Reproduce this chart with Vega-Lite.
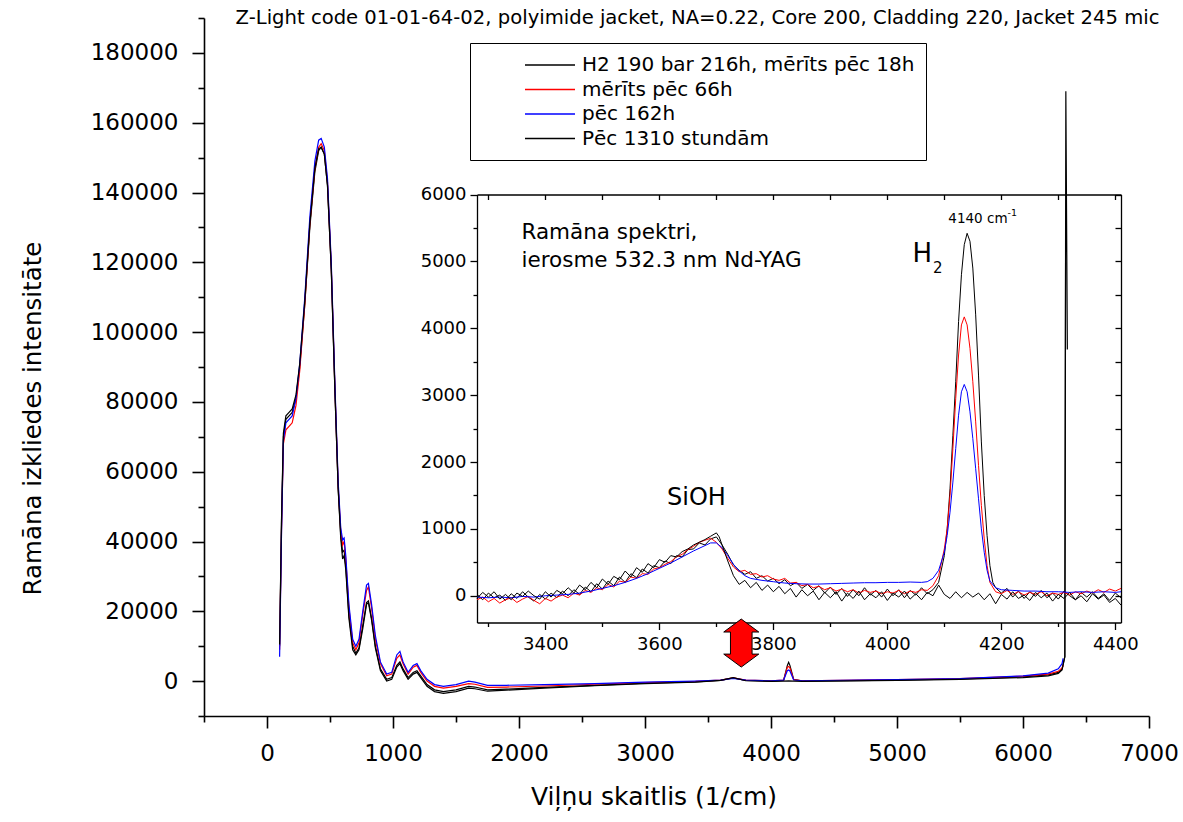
{
"$schema": "https://vega.github.io/schema/vega-lite/v6.json",
"width": 945,
"height": 698,
"autosize": {"type": "none"},
"padding": {"left": 204, "top": 18, "right": 34, "bottom": 106},
"background": "white",
"config": {
  "view": {"stroke": null},
  "axis": {"grid": false, "domainColor": "black", "tickColor": "black", "labelColor": "black", "titleColor": "black", "labelFont": "DejaVu Sans", "titleFont": "DejaVu Sans", "titleFontWeight": "normal", "labelFlush": false, "labelOverlap": false, "labelBound": false},
  "text": {"font": "DejaVu Sans", "color": "black"}
},
"datasets": {
"one": [{}],
"main": [
{"s":"a","x":100,"y":10000},{"s":"a","x":115,"y":45000},{"s":"a","x":130,"y":70000},{"s":"a","x":150,"y":75000},{"s":"a","x":175,"y":76000},{"s":"a","x":200,"y":77000},{"s":"a","x":230,"y":81000},{"s":"a","x":260,"y":90000},{"s":"a","x":300,"y":108000},{"s":"a","x":340,"y":130000},{"s":"a","x":380,"y":146000},{"s":"a","x":410,"y":152000},{"s":"a","x":430,"y":153000},{"s":"a","x":455,"y":151000},{"s":"a","x":480,"y":142000},{"s":"a","x":510,"y":118000},{"s":"a","x":540,"y":82000},{"s":"a","x":565,"y":55000},{"s":"a","x":585,"y":42000},{"s":"a","x":600,"y":37000},{"s":"a","x":612,"y":37500},{"s":"a","x":625,"y":33000},{"s":"a","x":650,"y":19000},{"s":"a","x":680,"y":10000},{"s":"a","x":705,"y":8000},{"s":"a","x":730,"y":9500},{"s":"a","x":760,"y":16000},{"s":"a","x":790,"y":22500},{"s":"a","x":805,"y":23000},{"s":"a","x":830,"y":18000},{"s":"a","x":860,"y":10000},{"s":"a","x":900,"y":3500},{"s":"a","x":950,"y":500},{"s":"a","x":990,"y":1000},{"s":"a","x":1030,"y":4500},{"s":"a","x":1055,"y":5500},{"s":"a","x":1080,"y":3500},{"s":"a","x":1120,"y":1000},{"s":"a","x":1160,"y":2500},{"s":"a","x":1190,"y":3000},{"s":"a","x":1220,"y":1500},{"s":"a","x":1270,"y":-1000},{"s":"a","x":1330,"y":-2500},{"s":"a","x":1400,"y":-3000},{"s":"a","x":1500,"y":-2500},{"s":"a","x":1600,"y":-1500},{"s":"a","x":1650,"y":-1700},{"s":"a","x":1750,"y":-2500},{"s":"a","x":1900,"y":-2300},{"s":"a","x":2200,"y":-1800},{"s":"a","x":2600,"y":-1200},{"s":"a","x":3000,"y":-600},{"s":"a","x":3400,"y":-200},{"s":"a","x":3600,"y":200},{"s":"a","x":3700,"y":900},{"s":"a","x":3800,"y":200},{"s":"a","x":4000,"y":0},{"s":"a","x":4100,"y":200},{"s":"a","x":4130,"y":4500},{"s":"a","x":4140,"y":5400},{"s":"a","x":4150,"y":4500},{"s":"a","x":4180,"y":500},{"s":"a","x":4250,"y":0},{"s":"a","x":5000,"y":300},{"s":"a","x":5500,"y":600},{"s":"a","x":6000,"y":1200},{"s":"a","x":6200,"y":1800},{"s":"a","x":6280,"y":2500},{"s":"a","x":6310,"y":3500},{"s":"a","x":6332,"y":7000},{"s":"a","x":6340,"y":169000},{"s":"a","x":6352,"y":95000},
{"s":"b","x":100,"y":9000},{"s":"b","x":115,"y":43000},{"s":"b","x":130,"y":68000},{"s":"b","x":150,"y":72000},{"s":"b","x":175,"y":73000},{"s":"b","x":200,"y":74000},{"s":"b","x":230,"y":79000},{"s":"b","x":260,"y":89000},{"s":"b","x":300,"y":108000},{"s":"b","x":340,"y":131000},{"s":"b","x":380,"y":147000},{"s":"b","x":410,"y":153000},{"s":"b","x":430,"y":154000},{"s":"b","x":455,"y":152000},{"s":"b","x":480,"y":143000},{"s":"b","x":510,"y":119000},{"s":"b","x":540,"y":83000},{"s":"b","x":565,"y":56000},{"s":"b","x":585,"y":43000},{"s":"b","x":600,"y":39000},{"s":"b","x":612,"y":40000},{"s":"b","x":625,"y":35000},{"s":"b","x":650,"y":21000},{"s":"b","x":680,"y":11000},{"s":"b","x":705,"y":9000},{"s":"b","x":730,"y":11000},{"s":"b","x":760,"y":19000},{"s":"b","x":790,"y":26000},{"s":"b","x":805,"y":27000},{"s":"b","x":830,"y":21000},{"s":"b","x":860,"y":12000},{"s":"b","x":900,"y":5000},{"s":"b","x":950,"y":1500},{"s":"b","x":990,"y":2000},{"s":"b","x":1030,"y":6500},{"s":"b","x":1055,"y":7500},{"s":"b","x":1080,"y":5000},{"s":"b","x":1120,"y":2000},{"s":"b","x":1160,"y":4000},{"s":"b","x":1190,"y":4500},{"s":"b","x":1220,"y":2500},{"s":"b","x":1270,"y":0},{"s":"b","x":1330,"y":-1500},{"s":"b","x":1400,"y":-2000},{"s":"b","x":1500,"y":-1500},{"s":"b","x":1600,"y":-700},{"s":"b","x":1650,"y":-900},{"s":"b","x":1750,"y":-1800},{"s":"b","x":1900,"y":-1700},{"s":"b","x":2200,"y":-1400},{"s":"b","x":2600,"y":-900},{"s":"b","x":3000,"y":-400},{"s":"b","x":3400,"y":-100},{"s":"b","x":3600,"y":300},{"s":"b","x":3700,"y":900},{"s":"b","x":3800,"y":300},{"s":"b","x":4000,"y":100},{"s":"b","x":4100,"y":300},{"s":"b","x":4130,"y":4000},{"s":"b","x":4140,"y":4200},{"s":"b","x":4150,"y":3800},{"s":"b","x":4180,"y":400},{"s":"b","x":4250,"y":100},{"s":"b","x":5000,"y":400},{"s":"b","x":5500,"y":700},{"s":"b","x":6000,"y":1400},{"s":"b","x":6200,"y":2000},{"s":"b","x":6280,"y":2800},{"s":"b","x":6310,"y":3800},{"s":"b","x":6320,"y":4500},
{"s":"c","x":100,"y":7000},{"s":"c","x":115,"y":42000},{"s":"c","x":130,"y":69000},{"s":"c","x":150,"y":74000},{"s":"c","x":175,"y":75000},{"s":"c","x":200,"y":76000},{"s":"c","x":230,"y":81000},{"s":"c","x":260,"y":91000},{"s":"c","x":300,"y":110000},{"s":"c","x":340,"y":133000},{"s":"c","x":380,"y":149000},{"s":"c","x":410,"y":155000},{"s":"c","x":430,"y":155500},{"s":"c","x":455,"y":153000},{"s":"c","x":480,"y":144000},{"s":"c","x":510,"y":120000},{"s":"c","x":540,"y":84000},{"s":"c","x":565,"y":57000},{"s":"c","x":585,"y":44000},{"s":"c","x":600,"y":40500},{"s":"c","x":612,"y":41000},{"s":"c","x":625,"y":36000},{"s":"c","x":650,"y":22000},{"s":"c","x":680,"y":12000},{"s":"c","x":705,"y":10000},{"s":"c","x":730,"y":12000},{"s":"c","x":760,"y":20000},{"s":"c","x":790,"y":27500},{"s":"c","x":805,"y":28000},{"s":"c","x":830,"y":22000},{"s":"c","x":860,"y":13000},{"s":"c","x":900,"y":5500},{"s":"c","x":950,"y":2000},{"s":"c","x":990,"y":2500},{"s":"c","x":1030,"y":7500},{"s":"c","x":1055,"y":8500},{"s":"c","x":1080,"y":5500},{"s":"c","x":1120,"y":2500},{"s":"c","x":1160,"y":4500},{"s":"c","x":1190,"y":5000},{"s":"c","x":1220,"y":3000},{"s":"c","x":1270,"y":500},{"s":"c","x":1330,"y":-1000},{"s":"c","x":1400,"y":-1500},{"s":"c","x":1500,"y":-1000},{"s":"c","x":1600,"y":0},{"s":"c","x":1650,"y":-300},{"s":"c","x":1750,"y":-1200},{"s":"c","x":1900,"y":-1200},{"s":"c","x":2200,"y":-1000},{"s":"c","x":2600,"y":-700},{"s":"c","x":3000,"y":-300},{"s":"c","x":3400,"y":0},{"s":"c","x":3600,"y":300},{"s":"c","x":3700,"y":800},{"s":"c","x":3800,"y":300},{"s":"c","x":4000,"y":100},{"s":"c","x":4100,"y":300},{"s":"c","x":4130,"y":3000},{"s":"c","x":4140,"y":3200},{"s":"c","x":4150,"y":2900},{"s":"c","x":4180,"y":300},{"s":"c","x":4250,"y":100},{"s":"c","x":5000,"y":400},{"s":"c","x":5500,"y":700},{"s":"c","x":6000,"y":1500},{"s":"c","x":6200,"y":2300},{"s":"c","x":6280,"y":3500},{"s":"c","x":6310,"y":5000},{"s":"c","x":6318,"y":6500},
{"s":"d","x":100,"y":10500},{"s":"d","x":115,"y":46000},{"s":"d","x":130,"y":71000},{"s":"d","x":150,"y":76000},{"s":"d","x":175,"y":77000},{"s":"d","x":200,"y":78000},{"s":"d","x":230,"y":82000},{"s":"d","x":260,"y":91000},{"s":"d","x":300,"y":109000},{"s":"d","x":340,"y":131000},{"s":"d","x":380,"y":147000},{"s":"d","x":410,"y":152500},{"s":"d","x":430,"y":153000},{"s":"d","x":455,"y":151000},{"s":"d","x":480,"y":142000},{"s":"d","x":510,"y":118000},{"s":"d","x":540,"y":82000},{"s":"d","x":565,"y":55000},{"s":"d","x":585,"y":41000},{"s":"d","x":600,"y":35000},{"s":"d","x":612,"y":36000},{"s":"d","x":625,"y":32000},{"s":"d","x":650,"y":18000},{"s":"d","x":680,"y":9000},{"s":"d","x":705,"y":7500},{"s":"d","x":730,"y":9000},{"s":"d","x":760,"y":15000},{"s":"d","x":790,"y":22000},{"s":"d","x":805,"y":22500},{"s":"d","x":830,"y":17500},{"s":"d","x":860,"y":9500},{"s":"d","x":900,"y":3000},{"s":"d","x":950,"y":0},{"s":"d","x":990,"y":500},{"s":"d","x":1030,"y":4000},{"s":"d","x":1055,"y":5000},{"s":"d","x":1080,"y":3000},{"s":"d","x":1120,"y":500},{"s":"d","x":1160,"y":2000},{"s":"d","x":1190,"y":2500},{"s":"d","x":1220,"y":1000},{"s":"d","x":1270,"y":-1500},{"s":"d","x":1330,"y":-3000},{"s":"d","x":1400,"y":-3500},{"s":"d","x":1500,"y":-3000},{"s":"d","x":1600,"y":-2000},{"s":"d","x":1650,"y":-2200},{"s":"d","x":1750,"y":-2900},{"s":"d","x":1900,"y":-2600},{"s":"d","x":2200,"y":-2000},{"s":"d","x":2600,"y":-1300},{"s":"d","x":3000,"y":-700},{"s":"d","x":3400,"y":-300},{"s":"d","x":3600,"y":200},{"s":"d","x":3700,"y":1000},{"s":"d","x":3800,"y":100},{"s":"d","x":4000,"y":-100},{"s":"d","x":4100,"y":0},{"s":"d","x":4140,"y":50},{"s":"d","x":4180,"y":0},{"s":"d","x":4250,"y":-100},{"s":"d","x":5000,"y":200},{"s":"d","x":5500,"y":500},{"s":"d","x":6000,"y":1000},{"s":"d","x":6200,"y":1500},{"s":"d","x":6280,"y":2200},{"s":"d","x":6310,"y":3200},{"s":"d","x":6332,"y":7000},{"s":"d","x":6338,"y":120000}
],
"inset": [
{"s":"a","x":3280,"y":20},{"s":"a","x":3290,"y":-60},{"s":"a","x":3300,"y":40},{"s":"a","x":3310,"y":-30},{"s":"a","x":3320,"y":10},{"s":"a","x":3330,"y":-70},{"s":"a","x":3340,"y":30},{"s":"a","x":3350,"y":-40},{"s":"a","x":3360,"y":60},{"s":"a","x":3370,"y":-20},{"s":"a","x":3380,"y":-80},{"s":"a","x":3390,"y":20},{"s":"a","x":3400,"y":-50},{"s":"a","x":3410,"y":40},{"s":"a","x":3420,"y":-30},{"s":"a","x":3430,"y":70},{"s":"a","x":3440,"y":0},{"s":"a","x":3450,"y":90},{"s":"a","x":3460,"y":20},{"s":"a","x":3470,"y":130},{"s":"a","x":3480,"y":60},{"s":"a","x":3490,"y":180},{"s":"a","x":3500,"y":100},{"s":"a","x":3510,"y":220},{"s":"a","x":3520,"y":150},{"s":"a","x":3530,"y":280},{"s":"a","x":3540,"y":200},{"s":"a","x":3550,"y":330},{"s":"a","x":3560,"y":270},{"s":"a","x":3570,"y":400},{"s":"a","x":3580,"y":340},{"s":"a","x":3590,"y":450},{"s":"a","x":3600,"y":420},{"s":"a","x":3610,"y":520},{"s":"a","x":3620,"y":480},{"s":"a","x":3630,"y":600},{"s":"a","x":3640,"y":580},{"s":"a","x":3650,"y":690},{"s":"a","x":3660,"y":700},{"s":"a","x":3670,"y":790},{"s":"a","x":3680,"y":760},{"s":"a","x":3690,"y":850},{"s":"a","x":3700,"y":880},{"s":"a","x":3710,"y":760},{"s":"a","x":3720,"y":620},{"s":"a","x":3730,"y":460},{"s":"a","x":3740,"y":380},{"s":"a","x":3750,"y":320},{"s":"a","x":3760,"y":360},{"s":"a","x":3770,"y":260},{"s":"a","x":3780,"y":300},{"s":"a","x":3790,"y":220},{"s":"a","x":3800,"y":260},{"s":"a","x":3810,"y":180},{"s":"a","x":3820,"y":240},{"s":"a","x":3830,"y":150},{"s":"a","x":3840,"y":200},{"s":"a","x":3850,"y":110},{"s":"a","x":3860,"y":170},{"s":"a","x":3870,"y":80},{"s":"a","x":3880,"y":150},{"s":"a","x":3890,"y":40},{"s":"a","x":3900,"y":130},{"s":"a","x":3910,"y":20},{"s":"a","x":3920,"y":110},{"s":"a","x":3930,"y":-10},{"s":"a","x":3940,"y":90},{"s":"a","x":3950,"y":0},{"s":"a","x":3960,"y":120},{"s":"a","x":3970,"y":10},{"s":"a","x":3980,"y":80},{"s":"a","x":3990,"y":-20},{"s":"a","x":4000,"y":100},{"s":"a","x":4010,"y":0},{"s":"a","x":4020,"y":90},{"s":"a","x":4030,"y":-30},{"s":"a","x":4040,"y":80},{"s":"a","x":4050,"y":10},{"s":"a","x":4060,"y":120},{"s":"a","x":4070,"y":30},{"s":"a","x":4080,"y":90},{"s":"a","x":4090,"y":200},{"s":"a","x":4100,"y":600},{"s":"a","x":4105,"y":1000},{"s":"a","x":4110,"y":1600},{"s":"a","x":4115,"y":2400},{"s":"a","x":4120,"y":3200},{"s":"a","x":4125,"y":4100},{"s":"a","x":4130,"y":4800},{"s":"a","x":4135,"y":5250},{"s":"a","x":4140,"y":5420},{"s":"a","x":4145,"y":5300},{"s":"a","x":4150,"y":4900},{"s":"a","x":4155,"y":4200},{"s":"a","x":4160,"y":3300},{"s":"a","x":4165,"y":2300},{"s":"a","x":4170,"y":1500},{"s":"a","x":4175,"y":900},{"s":"a","x":4180,"y":450},{"s":"a","x":4185,"y":200},{"s":"a","x":4190,"y":120},{"s":"a","x":4200,"y":40},{"s":"a","x":4210,"y":110},{"s":"a","x":4220,"y":-20},{"s":"a","x":4230,"y":70},{"s":"a","x":4240,"y":-40},{"s":"a","x":4250,"y":60},{"s":"a","x":4260,"y":-10},{"s":"a","x":4270,"y":80},{"s":"a","x":4280,"y":-30},{"s":"a","x":4290,"y":40},{"s":"a","x":4300,"y":-50},{"s":"a","x":4310,"y":70},{"s":"a","x":4320,"y":0},{"s":"a","x":4330,"y":-60},{"s":"a","x":4340,"y":50},{"s":"a","x":4350,"y":-20},{"s":"a","x":4360,"y":60},{"s":"a","x":4370,"y":-40},{"s":"a","x":4380,"y":30},{"s":"a","x":4390,"y":-70},{"s":"a","x":4400,"y":40},{"s":"a","x":4410,"y":-30},
{"s":"b","x":3280,"y":-60},{"s":"b","x":3290,"y":-20},{"s":"b","x":3300,"y":-90},{"s":"b","x":3310,"y":-40},{"s":"b","x":3320,"y":-110},{"s":"b","x":3330,"y":-60},{"s":"b","x":3340,"y":-30},{"s":"b","x":3350,"y":-100},{"s":"b","x":3360,"y":-50},{"s":"b","x":3370,"y":-10},{"s":"b","x":3380,"y":-70},{"s":"b","x":3390,"y":-120},{"s":"b","x":3400,"y":-40},{"s":"b","x":3410,"y":-80},{"s":"b","x":3420,"y":-20},{"s":"b","x":3430,"y":10},{"s":"b","x":3440,"y":-30},{"s":"b","x":3450,"y":40},{"s":"b","x":3460,"y":10},{"s":"b","x":3470,"y":80},{"s":"b","x":3480,"y":50},{"s":"b","x":3490,"y":120},{"s":"b","x":3500,"y":90},{"s":"b","x":3510,"y":170},{"s":"b","x":3520,"y":130},{"s":"b","x":3530,"y":220},{"s":"b","x":3540,"y":200},{"s":"b","x":3550,"y":280},{"s":"b","x":3560,"y":260},{"s":"b","x":3570,"y":330},{"s":"b","x":3580,"y":320},{"s":"b","x":3590,"y":400},{"s":"b","x":3600,"y":420},{"s":"b","x":3610,"y":470},{"s":"b","x":3620,"y":510},{"s":"b","x":3630,"y":580},{"s":"b","x":3640,"y":620},{"s":"b","x":3650,"y":690},{"s":"b","x":3660,"y":740},{"s":"b","x":3670,"y":800},{"s":"b","x":3680,"y":830},{"s":"b","x":3690,"y":860},{"s":"b","x":3700,"y":800},{"s":"b","x":3710,"y":700},{"s":"b","x":3720,"y":560},{"s":"b","x":3730,"y":430},{"s":"b","x":3740,"y":360},{"s":"b","x":3750,"y":380},{"s":"b","x":3760,"y":320},{"s":"b","x":3770,"y":330},{"s":"b","x":3780,"y":280},{"s":"b","x":3790,"y":300},{"s":"b","x":3800,"y":250},{"s":"b","x":3810,"y":230},{"s":"b","x":3820,"y":260},{"s":"b","x":3830,"y":190},{"s":"b","x":3840,"y":200},{"s":"b","x":3850,"y":150},{"s":"b","x":3860,"y":170},{"s":"b","x":3870,"y":120},{"s":"b","x":3880,"y":140},{"s":"b","x":3890,"y":90},{"s":"b","x":3900,"y":120},{"s":"b","x":3910,"y":70},{"s":"b","x":3920,"y":100},{"s":"b","x":3930,"y":60},{"s":"b","x":3940,"y":90},{"s":"b","x":3950,"y":40},{"s":"b","x":3960,"y":80},{"s":"b","x":3970,"y":50},{"s":"b","x":3980,"y":70},{"s":"b","x":3990,"y":30},{"s":"b","x":4000,"y":60},{"s":"b","x":4010,"y":40},{"s":"b","x":4020,"y":80},{"s":"b","x":4030,"y":30},{"s":"b","x":4040,"y":70},{"s":"b","x":4050,"y":50},{"s":"b","x":4060,"y":90},{"s":"b","x":4070,"y":80},{"s":"b","x":4080,"y":150},{"s":"b","x":4090,"y":300},{"s":"b","x":4100,"y":700},{"s":"b","x":4105,"y":1000},{"s":"b","x":4110,"y":1500},{"s":"b","x":4115,"y":2200},{"s":"b","x":4120,"y":2950},{"s":"b","x":4125,"y":3600},{"s":"b","x":4130,"y":4050},{"s":"b","x":4135,"y":4170},{"s":"b","x":4140,"y":4050},{"s":"b","x":4145,"y":3700},{"s":"b","x":4150,"y":3200},{"s":"b","x":4155,"y":2600},{"s":"b","x":4160,"y":1950},{"s":"b","x":4165,"y":1350},{"s":"b","x":4170,"y":850},{"s":"b","x":4175,"y":450},{"s":"b","x":4180,"y":200},{"s":"b","x":4190,"y":60},{"s":"b","x":4200,"y":30},{"s":"b","x":4210,"y":80},{"s":"b","x":4220,"y":20},{"s":"b","x":4230,"y":60},{"s":"b","x":4240,"y":10},{"s":"b","x":4250,"y":50},{"s":"b","x":4260,"y":20},{"s":"b","x":4270,"y":60},{"s":"b","x":4280,"y":0},{"s":"b","x":4290,"y":40},{"s":"b","x":4300,"y":20},{"s":"b","x":4310,"y":50},{"s":"b","x":4320,"y":10},{"s":"b","x":4330,"y":60},{"s":"b","x":4340,"y":30},{"s":"b","x":4350,"y":70},{"s":"b","x":4360,"y":40},{"s":"b","x":4370,"y":90},{"s":"b","x":4380,"y":50},{"s":"b","x":4390,"y":100},{"s":"b","x":4400,"y":70},{"s":"b","x":4410,"y":110},
{"s":"c","x":3280,"y":-20},{"s":"c","x":3300,"y":-30},{"s":"c","x":3320,"y":-20},{"s":"c","x":3340,"y":-30},{"s":"c","x":3360,"y":-10},{"s":"c","x":3380,"y":-20},{"s":"c","x":3400,"y":0},{"s":"c","x":3420,"y":10},{"s":"c","x":3440,"y":20},{"s":"c","x":3460,"y":40},{"s":"c","x":3480,"y":70},{"s":"c","x":3500,"y":110},{"s":"c","x":3520,"y":150},{"s":"c","x":3540,"y":200},{"s":"c","x":3560,"y":260},{"s":"c","x":3580,"y":330},{"s":"c","x":3600,"y":410},{"s":"c","x":3620,"y":490},{"s":"c","x":3640,"y":580},{"s":"c","x":3660,"y":670},{"s":"c","x":3680,"y":750},{"s":"c","x":3690,"y":790},{"s":"c","x":3700,"y":790},{"s":"c","x":3710,"y":720},{"s":"c","x":3720,"y":600},{"s":"c","x":3730,"y":470},{"s":"c","x":3740,"y":370},{"s":"c","x":3750,"y":300},{"s":"c","x":3760,"y":260},{"s":"c","x":3780,"y":230},{"s":"c","x":3800,"y":210},{"s":"c","x":3820,"y":190},{"s":"c","x":3840,"y":180},{"s":"c","x":3860,"y":175},{"s":"c","x":3880,"y":175},{"s":"c","x":3900,"y":180},{"s":"c","x":3920,"y":185},{"s":"c","x":3940,"y":190},{"s":"c","x":3960,"y":195},{"s":"c","x":3980,"y":195},{"s":"c","x":4000,"y":200},{"s":"c","x":4020,"y":200},{"s":"c","x":4040,"y":205},{"s":"c","x":4060,"y":200},{"s":"c","x":4070,"y":210},{"s":"c","x":4080,"y":260},{"s":"c","x":4090,"y":380},{"s":"c","x":4100,"y":650},{"s":"c","x":4105,"y":900},{"s":"c","x":4110,"y":1250},{"s":"c","x":4115,"y":1700},{"s":"c","x":4120,"y":2200},{"s":"c","x":4125,"y":2700},{"s":"c","x":4130,"y":3050},{"s":"c","x":4135,"y":3160},{"s":"c","x":4140,"y":3050},{"s":"c","x":4145,"y":2750},{"s":"c","x":4150,"y":2350},{"s":"c","x":4155,"y":1900},{"s":"c","x":4160,"y":1450},{"s":"c","x":4165,"y":1000},{"s":"c","x":4170,"y":650},{"s":"c","x":4175,"y":380},{"s":"c","x":4180,"y":220},{"s":"c","x":4190,"y":120},{"s":"c","x":4200,"y":90},{"s":"c","x":4220,"y":80},{"s":"c","x":4240,"y":70},{"s":"c","x":4260,"y":70},{"s":"c","x":4280,"y":60},{"s":"c","x":4300,"y":60},{"s":"c","x":4320,"y":50},{"s":"c","x":4340,"y":60},{"s":"c","x":4360,"y":50},{"s":"c","x":4380,"y":60},{"s":"c","x":4400,"y":50},{"s":"c","x":4410,"y":60},
{"s":"d","x":3280,"y":-40},{"s":"d","x":3290,"y":50},{"s":"d","x":3300,"y":-20},{"s":"d","x":3310,"y":60},{"s":"d","x":3320,"y":-50},{"s":"d","x":3330,"y":20},{"s":"d","x":3340,"y":-60},{"s":"d","x":3350,"y":40},{"s":"d","x":3360,"y":-10},{"s":"d","x":3370,"y":70},{"s":"d","x":3380,"y":0},{"s":"d","x":3390,"y":-50},{"s":"d","x":3400,"y":60},{"s":"d","x":3410,"y":-20},{"s":"d","x":3420,"y":80},{"s":"d","x":3430,"y":30},{"s":"d","x":3440,"y":120},{"s":"d","x":3450,"y":40},{"s":"d","x":3460,"y":160},{"s":"d","x":3470,"y":90},{"s":"d","x":3480,"y":200},{"s":"d","x":3490,"y":120},{"s":"d","x":3500,"y":250},{"s":"d","x":3510,"y":170},{"s":"d","x":3520,"y":290},{"s":"d","x":3530,"y":240},{"s":"d","x":3540,"y":370},{"s":"d","x":3550,"y":280},{"s":"d","x":3560,"y":420},{"s":"d","x":3570,"y":350},{"s":"d","x":3580,"y":480},{"s":"d","x":3590,"y":420},{"s":"d","x":3600,"y":540},{"s":"d","x":3610,"y":500},{"s":"d","x":3620,"y":600},{"s":"d","x":3630,"y":580},{"s":"d","x":3640,"y":660},{"s":"d","x":3650,"y":700},{"s":"d","x":3660,"y":760},{"s":"d","x":3670,"y":800},{"s":"d","x":3680,"y":840},{"s":"d","x":3690,"y":890},{"s":"d","x":3700,"y":940},{"s":"d","x":3705,"y":880},{"s":"d","x":3710,"y":760},{"s":"d","x":3720,"y":520},{"s":"d","x":3730,"y":300},{"s":"d","x":3740,"y":170},{"s":"d","x":3750,"y":230},{"s":"d","x":3760,"y":120},{"s":"d","x":3770,"y":200},{"s":"d","x":3780,"y":80},{"s":"d","x":3790,"y":160},{"s":"d","x":3800,"y":60},{"s":"d","x":3810,"y":140},{"s":"d","x":3820,"y":30},{"s":"d","x":3830,"y":110},{"s":"d","x":3840,"y":-20},{"s":"d","x":3850,"y":90},{"s":"d","x":3860,"y":0},{"s":"d","x":3870,"y":70},{"s":"d","x":3880,"y":-60},{"s":"d","x":3890,"y":50},{"s":"d","x":3900,"y":-30},{"s":"d","x":3910,"y":60},{"s":"d","x":3920,"y":-80},{"s":"d","x":3930,"y":40},{"s":"d","x":3940,"y":-40},{"s":"d","x":3950,"y":70},{"s":"d","x":3960,"y":-60},{"s":"d","x":3970,"y":30},{"s":"d","x":3980,"y":-30},{"s":"d","x":3990,"y":60},{"s":"d","x":4000,"y":-70},{"s":"d","x":4010,"y":40},{"s":"d","x":4020,"y":-20},{"s":"d","x":4030,"y":70},{"s":"d","x":4040,"y":-50},{"s":"d","x":4050,"y":30},{"s":"d","x":4060,"y":-60},{"s":"d","x":4070,"y":50},{"s":"d","x":4080,"y":0},{"s":"d","x":4090,"y":160},{"s":"d","x":4100,"y":20},{"s":"d","x":4110,"y":-40},{"s":"d","x":4120,"y":60},{"s":"d","x":4130,"y":-30},{"s":"d","x":4140,"y":50},{"s":"d","x":4150,"y":-20},{"s":"d","x":4160,"y":40},{"s":"d","x":4170,"y":-60},{"s":"d","x":4180,"y":30},{"s":"d","x":4190,"y":-120},{"s":"d","x":4200,"y":20},{"s":"d","x":4210,"y":-50},{"s":"d","x":4220,"y":60},{"s":"d","x":4230,"y":-40},{"s":"d","x":4240,"y":10},{"s":"d","x":4250,"y":-70},{"s":"d","x":4260,"y":50},{"s":"d","x":4270,"y":-30},{"s":"d","x":4280,"y":40},{"s":"d","x":4290,"y":-80},{"s":"d","x":4300,"y":20},{"s":"d","x":4310,"y":-40},{"s":"d","x":4320,"y":50},{"s":"d","x":4330,"y":-60},{"s":"d","x":4340,"y":0},{"s":"d","x":4350,"y":-90},{"s":"d","x":4360,"y":30},{"s":"d","x":4370,"y":-50},{"s":"d","x":4380,"y":10},{"s":"d","x":4390,"y":-100},{"s":"d","x":4400,"y":-40},{"s":"d","x":4410,"y":-140}
]
},
"layer": [
{
  "layer": [
    {
      "data": {"name": "main"},
      "mark": {"type": "line", "strokeWidth": 1.2, "interpolate": "linear"},
      "encoding": {
        "x": {"field": "x", "type": "quantitative",
          "scale": {"domain": [-500, 7000], "nice": false, "zero": false},
          "axis": {"orient": "bottom", "values": [-500,0,500,1000,1500,2000,2500,3000,3500,4000,4500,5000,5500,6000,6500,7000], "format": "d",
            "labelExpr": "datum.value % 1000 === 0 ? datum.label : ''",
            "tickSize": {"condition": {"test": "datum.value % 1000 === 0", "value": 12}, "value": 6},
            "tickWidth": 1.6, "domainWidth": 1.6, "labelFontSize": 23, "labelPadding": 14,
            "title": "Viļņu skaitlis (1/cm)", "titleFontSize": 25, "titleX": 449.5, "titleY": 88, "titleAlign": "center", "titleBaseline": "alphabetic"}},
        "y": {"field": "y", "type": "quantitative",
          "scale": {"domain": [-10000, 190000], "nice": false, "zero": false},
          "axis": {"orient": "left", "values": [-10000,0,10000,20000,30000,40000,50000,60000,70000,80000,90000,100000,110000,120000,130000,140000,150000,160000,170000,180000,190000], "format": "d",
            "labelExpr": "datum.value >= 0 && datum.value % 20000 === 0 ? datum.label : ''",
            "tickSize": {"condition": {"test": "datum.value % 20000 === 0", "value": 12}, "value": 6},
            "tickWidth": 1.6, "domainWidth": 1.6, "labelFontSize": 23, "labelPadding": 14,
            "title": "Ramāna izkliedes intensitāte", "titleFontSize": 24.5, "titleAngle": -90, "titleX": -164, "titleY": 400, "titleAlign": "center", "titleBaseline": "alphabetic"}},
        "color": {"field": "s", "type": "nominal",
          "scale": {"domain": ["a","b","c","d"], "range": ["#000000","#ff0000","#0000ff","#000000"]},
          "legend": {"orient": "none", "legendX": 266, "legendY": 25, "title": null,
            "symbolType": "M-2.5,0H2.5", "symbolSize": 400, "symbolStrokeWidth": 1.5,
            "symbolOffset": 58, "labelOffset": 21, "labelFont": "DejaVu Sans", "labelFontSize": 20, "labelColor": "black", "labelLimit": 600,
            "strokeColor": "black", "fillColor": "white", "padding": 11, "rowPadding": 3.5,
            "labelExpr": "datum.label == 'a' ? 'H2 190 bar 216h, mērīts pēc 18h' : datum.label == 'b' ? 'mērīts pēc 66h' : datum.label == 'c' ? 'pēc 162h' : 'Pēc 1310 stundām'"}}
      }
    },
    {
      "data": {"name": "one"},
      "mark": {"type": "point", "shape": "M0,-1L0.73,-0.46L0.45,-0.46L0.45,0.46L0.73,0.46L0,1L-0.73,0.46L-0.45,0.46L-0.45,-0.46L-0.73,-0.46Z", "size": 2304, "filled": true, "fill": "#ff0000", "stroke": "#000000", "strokeWidth": 1, "opacity": 1},
      "encoding": {
        "x": {"datum": 3764, "type": "quantitative", "scale": {"domain": [-500, 7000], "nice": false, "zero": false}, "axis": null},
        "y": {"datum": 10900, "type": "quantitative", "scale": {"domain": [-10000, 190000], "nice": false, "zero": false}, "axis": null}
      }
    },
    {
      "data": {"name": "one"},
      "mark": {"type": "text", "text": "Z-Light code 01-01-64-02, polyimide jacket, NA=0.22, Core 200, Cladding 220, Jacket 245 mic", "align": "center", "baseline": "alphabetic", "fontSize": 19.6, "font": "DejaVu Sans", "color": "black"},
      "encoding": {
        "x": {"datum": 3417, "type": "quantitative", "scale": {"domain": [-500, 7000], "nice": false, "zero": false}, "axis": null},
        "y": {"datum": 188280, "type": "quantitative", "scale": {"domain": [-10000, 190000], "nice": false, "zero": false}, "axis": null}
      }
    }
  ],
  "resolve": {"axis": {"x": "independent", "y": "independent"}}
},
{
  "layer": [
    {
      "data": {"name": "inset"},
      "mark": {"type": "line", "strokeWidth": 1, "interpolate": "linear"},
      "encoding": {
        "x": {"field": "x", "type": "quantitative",
          "scale": {"domain": [3280, 4410], "range": [273, 917], "nice": false, "zero": false},
          "axis": {"orient": "bottom", "offset": -93.5, "values": [3300,3400,3500,3600,3700,3800,3900,4000,4100,4200,4300,4400], "format": "d",
            "labelExpr": "datum.value % 200 === 0 ? datum.label : ''",
            "tickSize": {"condition": {"test": "datum.value % 200 === 0", "value": 7}, "value": 4},
            "tickWidth": 1.3, "domainWidth": 1.3, "labelFontSize": 18, "labelPadding": 6, "title": null}},
        "y": {"field": "y", "type": "quantitative",
          "scale": {"domain": [-400, 6000], "range": [604.5, 176.5], "nice": false, "zero": false},
          "axis": {"orient": "left", "offset": -273, "values": [0,500,1000,1500,2000,2500,3000,3500,4000,4500,5000,5500,6000], "format": "d",
            "labelExpr": "datum.value % 1000 === 0 ? datum.label : ''",
            "tickSize": {"condition": {"test": "datum.value % 1000 === 0", "value": 7}, "value": 4},
            "tickWidth": 1.3, "domainWidth": 1.3, "labelFontSize": 18, "labelPadding": 4, "title": null}},
        "color": {"field": "s", "type": "nominal", "scale": {"domain": ["a","b","c","d"], "range": ["#000000","#ff0000","#0000ff","#000000"]}, "legend": null}
      }
    },
    {
      "data": {"name": "one"},
      "mark": {"type": "point", "opacity": 0},
      "encoding": {
        "x": {"datum": 3280, "type": "quantitative", "scale": {"domain": [3280, 4410], "range": [273, 917], "nice": false, "zero": false},
          "axis": {"orient": "top", "offset": -176.5, "values": [3300,3400,3500,3600,3700,3800,3900,4000,4100,4200,4300,4400], "labels": false, "tickSize": -5, "tickWidth": 1.3, "domainWidth": 1.3, "title": null}},
        "y": {"datum": 0, "type": "quantitative", "scale": {"domain": [-400, 6000], "range": [604.5, 176.5], "nice": false, "zero": false},
          "axis": {"orient": "right", "offset": -28, "values": [0,500,1000,1500,2000,2500,3000,3500,4000,4500,5000,5500,6000], "labels": false, "tickSize": -6, "tickWidth": 1.3, "domainWidth": 1.3, "title": null}}
      }
    },
    {
      "data": {"name": "one"},
      "mark": {"type": "text", "text": "Ramāna spektri,", "align": "left", "baseline": "alphabetic", "fontSize": 21.5, "font": "DejaVu Sans"},
      "encoding": {"x": {"datum": 3358, "type": "quantitative", "axis": null}, "y": {"datum": 5330, "type": "quantitative", "axis": null}}
    },
    {
      "data": {"name": "one"},
      "mark": {"type": "text", "text": "ierosme 532.3 nm Nd-YAG", "align": "left", "baseline": "alphabetic", "fontSize": 21.5, "font": "DejaVu Sans"},
      "encoding": {"x": {"datum": 3358, "type": "quantitative", "axis": null}, "y": {"datum": 4920, "type": "quantitative", "axis": null}}
    },
    {
      "data": {"name": "one"},
      "mark": {"type": "text", "text": "H", "align": "left", "baseline": "alphabetic", "fontSize": 26, "font": "DejaVu Sans"},
      "encoding": {"x": {"datum": 4044, "type": "quantitative", "axis": null}, "y": {"datum": 4993, "type": "quantitative", "axis": null}}
    },
    {
      "data": {"name": "one"},
      "mark": {"type": "text", "text": "2", "align": "left", "baseline": "alphabetic", "fontSize": 15, "font": "DejaVu Sans"},
      "encoding": {"x": {"datum": 4080, "type": "quantitative", "axis": null}, "y": {"datum": 4828, "type": "quantitative", "axis": null}}
    },
    {
      "data": {"name": "one"},
      "mark": {"type": "text", "text": "4140 cm", "align": "left", "baseline": "alphabetic", "fontSize": 13.5, "font": "DejaVu Sans"},
      "encoding": {"x": {"datum": 4107, "type": "quantitative", "axis": null}, "y": {"datum": 5575, "type": "quantitative", "axis": null}}
    },
    {
      "data": {"name": "one"},
      "mark": {"type": "text", "text": "-1", "align": "left", "baseline": "alphabetic", "fontSize": 9.5, "font": "DejaVu Sans"},
      "encoding": {"x": {"datum": 4211, "type": "quantitative", "axis": null}, "y": {"datum": 5680, "type": "quantitative", "axis": null}}
    },
    {
      "data": {"name": "one"},
      "mark": {"type": "text", "text": "SiOH", "align": "center", "baseline": "alphabetic", "fontSize": 24, "font": "DejaVu Sans"},
      "encoding": {"x": {"datum": 3665, "type": "quantitative", "axis": null}, "y": {"datum": 1360, "type": "quantitative", "axis": null}}
    }
  ],
  "resolve": {"axis": {"x": "independent", "y": "independent"}}
}
],
"resolve": {"scale": {"x": "independent", "y": "independent"}}
}
